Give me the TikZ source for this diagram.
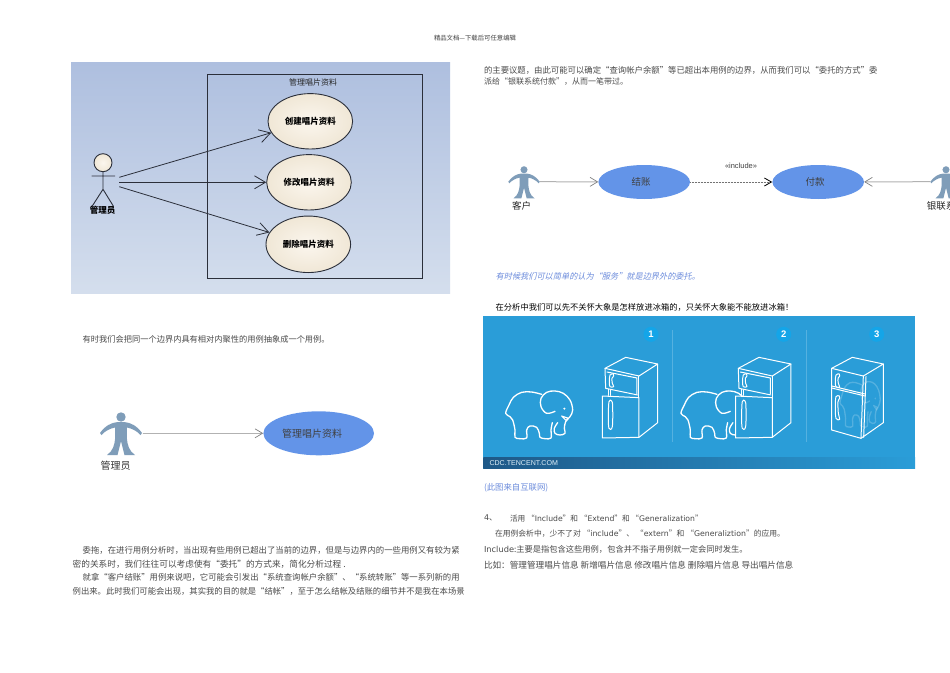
\documentclass[tikz,border=0pt]{standalone}
\usepackage{fontspec}
\usepackage{graphicx}
\usetikzlibrary{shapes.geometric,arrows.meta}
\setmainfont{Noto Sans CJK SC}
\newfontfamily\cjkslant[FakeSlant=0.22]{Noto Sans CJK SC}
\newfontfamily\latfont{DejaVu Sans}
\newfontfamily\armfont{Liberation Sans}
\definecolor{bodytext}{HTML}{4A4A4A}
\definecolor{linkblue}{HTML}{6C8CDC}
\definecolor{panel}{HTML}{2A9DD8}
\definecolor{usecase}{HTML}{6394E8}
\definecolor{actorblue}{HTML}{7F9DB9}
\definecolor{umlline}{HTML}{2B2F3A}
\definecolor{creamin}{HTML}{FBF6EE}
\definecolor{creamout}{HTML}{F0E7D6}
\definecolor{numblue}{HTML}{14A5E8}
\newcommand{\lat}[1]{{\latfont #1}}
% name, x, y-centre, width, colour, text
\newcommand{\txtline}[6]{\node[textline,text=#5] (#1) at (#2,#3) {\resizebox{#4pt}{!}{\fontsize{8}{10}\selectfont #6}};}
\tikzset{
  textline/.style={anchor=west,inner sep=0pt,outer sep=0pt},
  caseA/.style={ellipse,draw=umlline,line width=0.9pt,inner color=creamin,outer color=creamout,minimum width=84.6pt,minimum height=55.4pt,inner sep=0pt,font=\bfseries\fontsize{8.5}{10}\selectfont,text=black},
  caseB/.style={ellipse,fill=usecase,inner sep=0pt,text=black!75},
  umlarrow/.style={draw=umlline,line width=0.8pt,-{Straight Barb[length=11pt,width=13pt,line width=0.8pt]}},
  grayarrow/.style={draw=black!30,line width=1pt,-{Straight Barb[length=7.5pt,width=9pt,line width=0.7pt,color=black!50]}},
  dasharrow/.style={draw=black!55,line width=1pt,dash pattern=on 1pt off 0.5pt,-{Straight Barb[length=7pt,width=8pt,line width=0.8pt,color=black]}},
  icon/.style={draw=white,line width=1pt,line join=round,line cap=round},
  numdot/.style={circle,fill=numblue,minimum size=15pt,inner sep=0pt,text=white,font=\armfont\bfseries\fontsize{9.5}{10}\selectfont},
  person/.pic={
    \fill[actorblue] (0,5) circle (4.7);
    \fill[actorblue] (-3,10) .. controls (-10,10.5) and (-16,14) .. (-21,21) -- (-19.5,23) .. controls (-16,19) and (-11,16.5) .. (-6,15.5)
      -- (-5.8,26) .. controls (-6.5,33) and (-8,39) .. (-14,43) -- (-3.5,43) -- (0,29) -- (3.5,43) -- (14,43)
      .. controls (8,39) and (6.5,33) .. (5.8,26) -- (6,15.5) .. controls (11,16.5) and (16,19) .. (19.5,23) -- (21,21)
      .. controls (16,14) and (10,10.5) .. (3,10) -- cycle;
  },
  elephant/.pic={
    \draw[icon,line width=1.3pt] plot[smooth,tension=.6] coordinates {(140,133)(110,126)(80,127)(55,142)(42,165)(32,190)(45,200)(53,210)(60,240)(60,262)(75,266)(95,264)(95,240)(105,228)(125,232)(133,250)(135,262)(150,266)(168,264)(168,240)(172,218)};
    \draw[icon,line width=1.3pt] plot[smooth,tension=.6] coordinates {(180,184)(155,190)(138,170)(138,145)(155,127)(180,123)(205,130)(225,150)(233,180)(225,200)(212,215)(208,235)(210,250)(195,255)(180,250)(178,235)(188,218)};
    \fill[white] (208,176) circle (3.5);
    \draw[icon,line width=1.1pt] (200,198) -- (218,204) -- (214,212) -- cycle;
  },
  fridgeopen/.pic={
    \draw[icon] (330,55) -- (392,22) -- (488,42) -- (432,78) -- cycle;
    \draw[icon] (330,55) -- (332,115) -- (428,135);
    \draw[icon] (336,66) -- (426,84) -- (426,132);
    \draw[icon] (488,42) -- (488,218) -- (432,262);
    \draw[icon] (432,78) -- (432,143);
    \draw[icon] (340,118) -- (340,136) (347,120) -- (347,136);
    \draw[icon] plot[smooth cycle,tension=.6] coordinates {(355,72)(345,75)(343,95)(345,110)(356,110)(352,100)(351,85)(356,78)};
    \draw[icon,fill=panel] (322,138) -- (432,143) -- (432,262) -- (322,264) -- cycle;
    \draw[icon] plot[smooth cycle,tension=.6] coordinates {(342,155)(350,153)(353,170)(352,230)(342,235)(340,200)};
  },
  fridgeclosed/.pic={
    \draw[icon] (20,55) -- (82,22) -- (175,42) -- (115,78) -- cycle;
    \draw[icon] (20,55) -- (20,240) -- (108,265) -- (115,78);
    \draw[icon] (175,42) -- (175,218) -- (108,265);
    \draw[icon] (20,108) -- (120,132) (20,114) -- (120,138);
    \draw[icon] (123,80) -- (116,262);
    \draw[icon] plot[smooth cycle,tension=.6] coordinates {(43,72)(33,75)(31,95)(33,110)(44,112)(40,100)(39,85)(44,78)};
    \draw[icon] plot[smooth cycle,tension=.6] coordinates {(43,138)(33,140)(31,170)(33,205)(44,208)(40,190)(39,155)(44,145)};
  }
}
\begin{document}
\begin{tikzpicture}[x=1pt,y=-1pt]
\clip (0,0) rectangle (950,672);
\fill[white] (0,0) rectangle (950,672);

% header
\txtline{hdr}{434}{38}{82}{black!75}{精品文档---下载后可任意编辑}

% ---- UML diagram on gradient
\shade[top color={rgb,255:red,174;green,191;blue,223},bottom color={rgb,255:red,212;green,222;blue,237}] (71,62) rectangle (450,293);
\node[draw=umlline,line width=0.9pt,minimum width=215.6pt,minimum height=203.4pt,inner sep=0pt,anchor=north west] (sysbox) at (206.7,74.3) {};
\node[font=\fontsize{8}{10}\selectfont,text=black!85] (systitle) at (313,82.5) {管理唱片资料};
\node[caseA] (e1) at (310.3,121.3) {创建唱片资料};
\node[caseA] (e2) at (309,182.3) {修改唱片资料};
\node[caseA,minimum height=56.5pt] (e3) at (308.3,244.3) {删除唱片资料};
% stick actor
\node[circle,draw=umlline,line width=0.9pt,inner color=creamin,outer color=creamout,minimum size=18pt,inner sep=0pt] (head) at (103,162.7) {};
\coordinate (armL) at (91.7,176);
\coordinate (armR) at (115,176);
\coordinate (hip) at (103,189.3);
\coordinate (footL) at (92.3,206);
\coordinate (footR) at (113.3,206);
\draw[umlline,line width=0.9pt] (head) -- (hip) (armL) -- (armR) (footL) -- (hip) -- (footR);
\node[font=\bfseries\fontsize{8.5}{10}\selectfont,text=black] (adminA) at (102.7,210.5) {管理员};
\coordinate (a1) at (119.3,177.3);
\coordinate (a2) at (119.3,182.3);
\coordinate (a3) at (119.3,186.7);
\draw[umlarrow] (a1) -- (e1);
\draw[umlarrow] (a2) -- (e2);
\draw[umlarrow] (a3) -- (e3);

% left paragraph 1
\txtline{p1}{82.7}{339}{247}{bodytext}{有时我们会把同一个边界内具有相对内聚性的用例抽象成一个用例。}

% simple diagram
\pic at (121,412) {person};
\coordinate (adminB) at (142.7,433.3);
\node[font=\fontsize{10}{12}\selectfont,text=black!80] (adminBl) at (115.7,466) {管理员};
\node[caseB,minimum width=110.6pt,minimum height=44pt,font=\fontsize{10}{12}\selectfont] (mgr) at (318.7,433.3) {\hspace{-13pt}管理唱片资料};
\draw[grayarrow] (adminB) -- (mgr);

% left paragraph 2
\txtline{p2}{82.7}{550}{377}{bodytext}{委拖，在进行用例分析时，当出现有些用例已超出了当前的边界，但是与边界内的一些用例又有较为紧}
\txtline{p3}{72.7}{564}{273}{bodytext}{密的关系时，我们往往可以考虑使有“委托”的方式来，简化分析过程 .}
\txtline{p4}{82.7}{577.7}{377}{bodytext}{就拿“客户结账”用例来说吧，它可能会引发出“系统查询帐户余额”、“系统转账”等一系列新的用}
\txtline{p5}{72.7}{591}{392}{bodytext}{例出来。此时我们可能会出现，其实我的目的就是“结帐”，至于怎么结帐及结账的细节并不是我在本场景}

% right top paragraph
\txtline{r1}{484}{70}{393.5}{bodytext}{的主要议题，由此可能可以确定“查询帐户余额”等已超出本用例的边界，从而我们可以“委托的方式”委}
\txtline{r2}{484}{82}{144}{bodytext}{派给“银联系统付款”，从而一笔带过。}

% include diagram
\pic[scale=.75] at (524,166) {person};
\pic[scale=.75] at (946,166) {person};
\coordinate (cust) at (540,181.7);
\coordinate (bank) at (930,181.7);
\node[font=\fontsize{9.5}{12}\selectfont,text=black!85] (custl) at (521.7,206.3) {客户};
\node[font=\fontsize{9.5}{12}\selectfont,text=black!85,anchor=west,inner sep=0pt] (bankl) at (926.7,206.3) {银联系};
\node[caseB,minimum width=91.6pt,minimum height=34pt,font=\fontsize{9.5}{12}\selectfont] (pay1) at (644.2,182) {\hspace{-6pt}结账};
\node[caseB,minimum width=91.6pt,minimum height=34pt,font=\fontsize{9.5}{12}\selectfont] (pay2) at (818.2,182) {\hspace{-6pt}付款};
\draw[grayarrow] (cust) -- (pay1);
\draw[dasharrow] (pay1) -- (pay2);
\draw[grayarrow] (bank) -- (pay2);
\node[text=black!75,inner sep=0pt] (incl) at (741,165.7) {\resizebox{32pt}{!}{\armfont\fontsize{7}{8}\selectfont «include»}};

\txtline{note}{495.7}{276.7}{204.3}{linkblue}{\cjkslant 有时候我们可以简单的认为“服务”就是边界外的委托。}
\txtline{head2}{495.7}{307.7}{297.6}{black}{在分析中我们可以先不关怀大象是怎样放进冰箱的，只关怀大象能不能放进冰箱！}

% blue picture
\fill[panel] (483.3,316) rectangle (915,468.7);
\shade[left color={rgb,255:red,30;green,88;blue,135},right color=panel] (483.3,457) rectangle (915,468.7);
\node[inner sep=0pt,anchor=west,text=white!85!panel] (cdc) at (489.3,463) {\resizebox{68.4pt}{!}{\armfont\fontsize{8}{9}\selectfont CDC.TENCENT.COM}};
\draw[white!20!panel,line width=0.6pt] (672.3,330) -- (672.3,441.7) (806.7,330) -- (806.7,441.7);
\node[numdot] (n1) at (651,334.3) {1};
\node[numdot] (n2) at (783.7,334.3) {2};
\node[numdot] (n3) at (876.7,334.3) {3};
\pic[scale=.3333] at (495,350) {elephant};
\pic[scale=.3333] at (495,350) {fridgeopen};
\pic[scale=.3333] at (670.3,350) {elephant};
\pic[scale=.3333] at (628.3,350) {fridgeopen};
\begin{scope}[opacity=.2]
\pic[xscale=.2,yscale=.3167] at (833.6,342.7) {elephant};
\end{scope}
\pic[scale=.3333] at (825,350) {fridgeclosed};

% right lower text
\txtline{src}{484}{487.7}{64.3}{linkblue}{(此图来自互联网)}
\txtline{s4}{484}{518.3}{13}{bodytext}{\lat{4}、}
\txtline{s4b}{510}{518.3}{192.7}{bodytext}{活用 “\lat{Include}”和 “\lat{Extend}”和 “\lat{Generalization}”}
\txtline{s5}{495}{534}{290}{bodytext}{在用例会析中，少不了对 “\lat{include}”、 “\lat{extern}”和 “\lat{Generaliztion}”的应用。}
\txtline{s6}{484}{549.3}{263.7}{bodytext}{\lat{Include}:主要是指包含这些用例，包含并不指子用例就一定会同时发生。}
\txtline{s7}{484}{565.3}{309.3}{bodytext}{比如：管理管理唱片信息 新增唱片信息 修改唱片信息 删除唱片信息 导出唱片信息}
\end{tikzpicture}
\end{document}
